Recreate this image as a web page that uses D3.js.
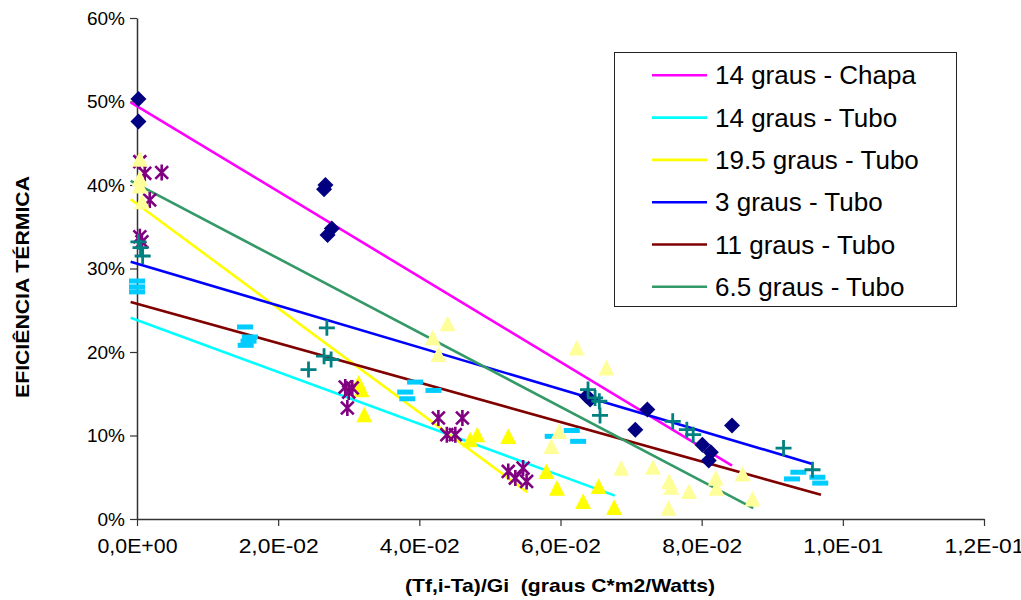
<!DOCTYPE html>
<html>
<head>
<meta charset="utf-8">
<script src="https://cdn.jsdelivr.net/npm/d3@7"></script>
<style>
  body { margin: 0; background: #fff; }
  text { font-family: "Liberation Sans", Arial, sans-serif; fill: #000; }
</style>
</head>
<body>
<div id="chart"></div>
<script>
// data (x in graus C*m2/W, y in %)
var chapaPts = [[0.0002,50.3],[0.0002,47.6],[0.0265,39.5],[0.0267,40.0],[0.0270,34.0],[0.0276,34.8],
  [0.0637,14.7],[0.0642,14.3],[0.0723,13.1],[0.0706,10.7],[0.0801,8.9],[0.0813,8.0],[0.0810,7.0],[0.0843,11.2]];
var tubo14Pts = [[0.0314,16.3],[0.0318,15.5],[0.0322,12.5],[0.0472,9.5],[0.0482,10.1],[0.0526,9.9],
  [0.0580,5.7],[0.0595,3.7],[0.0632,2.1],[0.0654,3.9],[0.0676,1.4]];
var tubo195Pts = [[0.0004,42.8],[0.0011,41.4],[0.0035,41.5],[0.0018,38.2],[0.0004,33.8],[0.0007,33.2],
  [0.0295,15.8],[0.0300,15.2],[0.0305,15.7],[0.0298,13.3],
  [0.0427,12.1],[0.0461,12.1],[0.0439,10.1],[0.0451,10.1],[0.0526,5.7],[0.0547,6.1],[0.0536,4.9],[0.0552,4.5]];
var tubo3Pts = [[0.0002,33.2],[0.0005,32.5],[0.0008,31.5],[0.0269,22.9],[0.0265,19.5],[0.0275,19.1],[0.0243,17.9],
  [0.0639,15.5],[0.0649,14.5],[0.0655,14.1],[0.0656,12.4],[0.0759,11.7],[0.0779,10.7],[0.0788,10.1],
  [0.0916,8.5],[0.0957,5.9]];
var tubo11Pts = [[0.0,28.5],[0.0,27.8],[0.0,27.2],[0.0153,23.0],[0.0160,21.8],[0.0158,21.3],[0.0154,20.8],
  [0.0394,16.4],[0.0380,15.2],[0.0383,14.4],[0.0420,15.4],[0.0589,9.9],[0.0616,10.6],[0.0625,9.3],
  [0.0937,5.6],[0.0928,4.8],[0.0964,5.0],[0.0968,4.3]];
var tubo65Pts = [[0.0004,43.1],[0.0004,40.8],[0.0004,39.9],[0.0007,38.0],[0.0419,21.7],[0.0440,23.4],[0.0427,19.7],
  [0.0623,20.5],[0.0665,18.1],[0.0598,10.5],[0.0587,8.7],[0.0686,6.1],[0.0731,6.2],[0.0754,4.5],[0.0757,3.8],
  [0.0782,3.3],[0.0753,1.3],[0.0820,4.9],[0.0821,3.7],[0.0858,5.4],[0.0872,2.4]];

// trend lines: start x, start y, end x, end y
var trendNames = ["14 graus - Chapa", "14 graus - Tubo", "19.5 graus - Tubo", "3 graus - Tubo", "11 graus - Tubo", "6.5 graus - Tubo"];
var trendEnds = [[-0.0009,49.9,0.0843,6.4],[-0.0009,24.1,0.0677,2.8],[-0.0009,38.3,0.0553,3.2],
  [-0.0009,30.8,0.0957,6.6],[-0.0009,26.0,0.0969,2.9],[-0.0009,40.5,0.0873,1.3]];

var xTicks = [0, 0.02, 0.04, 0.06, 0.08, 0.10, 0.12];
var yTicks = [0, 10, 20, 30, 40, 50, 60];

var trendColors = ["#ff00ff", "#00ffff", "#ffff00", "#0000ff", "#800000", "#339966"];

var width = 1021, height = 600;
var svg = d3.select("#chart").append("svg")
    .attr("width", width)
    .attr("height", height);

var x = d3.scaleLinear().domain([0, 0.12]).range([137, 984]);
var y = d3.scaleLinear().domain([0, 60]).range([519, 18]);

function fmtExp(d) {
  var s = d.toExponential(1).replace(".", ",").toUpperCase();
  var parts = s.split("E");
  var sign = parts[1][0];
  var num = parts[1].slice(1);
  if (num.length < 2) num = "0" + num;
  return parts[0] + "E" + sign + num;
}

// axes
var xAxis = svg.append("g")
    .attr("transform", "translate(0," + y(0) + ")")
    .call(d3.axisBottom(x).tickValues(xTicks).tickFormat(fmtExp).tickSize(7).tickSizeOuter(0));
xAxis.selectAll("text")
    .attr("y", 20)
    .style("font-size", "20px")
    .attr("textLength", 80)
    .attr("lengthAdjust", "spacingAndGlyphs");

var yAxis = svg.append("g")
    .attr("transform", "translate(" + x(0) + ",0)")
    .call(d3.axisLeft(y).tickValues(yTicks).tickFormat(function(d) { return d + "%"; }).tickSize(7).tickSizeOuter(0));
yAxis.selectAll("text")
    .attr("x", -12)
    .style("font-size", "19px");

svg.selectAll(".domain").attr("stroke", "#333").attr("stroke-width", 1.5);
svg.selectAll(".tick line").attr("stroke", "#333").attr("stroke-width", 1.2);

// axis titles
svg.append("text")
    .attr("x", 560)
    .attr("y", 592)
    .attr("text-anchor", "middle")
    .style("font-size", "19px")
    .style("font-weight", "bold")
    .attr("textLength", 310)
    .attr("lengthAdjust", "spacingAndGlyphs")
    .attr("xml:space", "preserve")
    .text("(Tf,i-Ta)/Gi  (graus C*m2/Watts)");

svg.append("text")
    .attr("transform", "translate(29,287) rotate(-90)")
    .attr("text-anchor", "middle")
    .style("font-size", "19px")
    .style("font-weight", "bold")
    .attr("textLength", 222)
    .attr("lengthAdjust", "spacingAndGlyphs")
    .text("EFICIÊNCIA TÉRMICA");

// trend lines
svg.append("g").selectAll("line")
    .data(trendEnds)
  .enter().append("line")
    .attr("x1", function(d) { return x(d[0]); })
    .attr("y1", function(d) { return y(d[1]); })
    .attr("x2", function(d) { return x(d[2]); })
    .attr("y2", function(d) { return y(d[3]); })
    .attr("stroke", function(d, i) { return trendColors[i]; })
    .attr("stroke-width", 2.6);

// marker shapes
function diamond(s) { return "M0," + (-s) + "L" + s + ",0L0," + s + "L" + (-s) + ",0Z"; }
function triangle(s) { return "M0," + (-s) + "L" + s + "," + (s * 0.95) + "L" + (-s) + "," + (s * 0.95) + "Z"; }
function plus(s) { return "M" + (-s) + ",0L" + s + ",0M0," + (-s) + "L0," + s; }
function star(s) { var k = s * 0.8; return "M" + (-k) + "," + (-k) + "L" + k + "," + k + "M" + (-k) + "," + k + "L" + k + "," + (-k) + "M0," + (-s) + "L0," + s; }

function drawMarkers(pts, path, fill, stroke, sw) {
  svg.append("g").selectAll("path")
      .data(pts)
    .enter().append("path")
      .attr("transform", function(d) { return "translate(" + x(d[0]) + "," + y(d[1]) + ")"; })
      .attr("d", path)
      .attr("fill", fill)
      .attr("stroke", stroke)
      .attr("stroke-width", sw);
}

// short dash markers
svg.append("g").selectAll("rect")
    .data(tubo11Pts)
  .enter().append("rect")
    .attr("x", function(d) { return x(d[0]) - 8; })
    .attr("y", function(d) { return y(d[1]) - 2.5; })
    .attr("width", 16)
    .attr("height", 5)
    .attr("fill", "#00ccff");
drawMarkers(tubo14Pts, triangle(8), "#ffff00", "none", 0);
drawMarkers(tubo195Pts, star(8), "none", "#800080", 2.6);
drawMarkers(tubo65Pts, triangle(8), "#ffff99", "none", 0);
drawMarkers(chapaPts, diamond(8), "#000080", "none", 0);
drawMarkers(tubo3Pts, plus(8), "none", "#008080", 2.8);

// legend
var legend = svg.append("g");
legend.append("rect")
    .attr("x", 614.5)
    .attr("y", 52.5)
    .attr("width", 342)
    .attr("height", 254)
    .attr("fill", "#fff")
    .attr("stroke", "#222")
    .attr("stroke-width", 1);

var item = legend.selectAll(".item")
    .data(trendNames)
  .enter().append("g")
    .attr("transform", function(d, i) { return "translate(0," + (75.3 + i * 42.3) + ")"; });
item.append("line")
    .attr("x1", 652).attr("x2", 707)
    .attr("stroke", function(d, i) { return trendColors[i]; })
    .attr("stroke-width", 2.6);
item.append("text")
    .attr("x", 715)
    .attr("dy", "0.35em")
    .style("font-size", "26px")
    .text(function(d) { return d; });
</script>
</body>
</html>
